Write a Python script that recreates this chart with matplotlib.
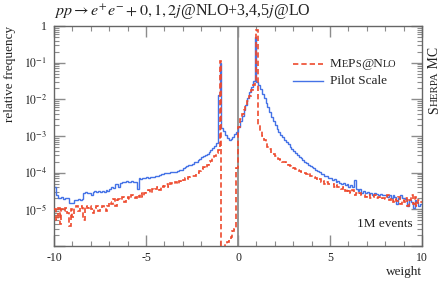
import numpy as np
import matplotlib
matplotlib.use("Agg")
import matplotlib.pyplot as plt
from matplotlib.transforms import offset_copy
from matplotlib.ticker import FixedLocator, LogLocator, NullFormatter

plt.rcParams['font.family'] = ['Liberation Serif', 'DejaVu Serif']
plt.rcParams['mathtext.fontset'] = 'stix'
plt.rcParams['axes.unicode_minus'] = False

# histogram: 200 bins of width 0.1 from -10 to 10, values as log10(relative frequency)
bin_edges = np.linspace(-10, 10, 201)

pilot_log = [
    -4.40, -4.62, -4.68, -4.70, -4.66, -4.72, -4.70, -4.68, -4.82, -4.84,
    -4.82, -4.74, -4.75, -4.72, -4.74, -4.72, -4.55, -4.54, -4.56, -4.55,
    -4.60, -4.52, -4.50, -4.53, -4.50, -4.52, -4.50, -4.52, -4.48, -4.50,
    -4.45, -4.40, -4.42, -4.30, -4.30, -4.40, -4.28, -4.25, -4.26, -4.24,
    -4.25, -4.26, -4.24, -4.25, -4.25, -4.45, -4.15, -4.16, -4.14, -4.15,
    -4.13, -4.14, -4.12, -4.13, -4.12, -4.10, -4.08, -4.06, -4.05, -4.03,
    -4.02, -4.00, -4.00, -3.99, -3.98, -3.97, -3.97, -3.96, -3.94, -3.92,
    -3.88, -3.85, -3.82, -3.80, -3.78, -3.75, -3.72, -3.70, -3.66, -3.62,
    -3.58, -3.55, -3.52, -3.48, -3.44, -3.38, -3.32, -3.26, -3.20, -1.88,
    -1.00, -2.78, -2.86, -2.96, -3.05, -3.10, -3.08, -3.02, -2.95, -2.88,
    -2.75, -2.60, -2.45, -2.30, -2.15, -1.95, -1.80, -1.65, -1.50, -0.29,
    -1.52, -1.62, -1.72, -1.85, -1.97, -2.10, -2.22, -2.35, -2.48, -2.60,
    -2.70, -2.80, -2.88, -2.96, -3.03, -3.10, -3.17, -3.23, -3.30, -3.36,
    -3.42, -3.47, -3.52, -3.56, -3.60, -3.65, -3.70, -3.74, -3.78, -3.82,
    -3.85, -3.88, -3.92, -3.95, -3.98, -4.05, -4.05, -4.10, -4.08, -4.15,
    -4.15, -4.20, -4.18, -4.25, -4.22, -4.27, -4.30, -4.28, -4.35, -4.30,
    -4.38, -4.35, -4.40, -4.20, -4.45, -4.50, -4.45, -4.55, -4.50, -4.55,
    -4.52, -4.58, -4.55, -4.60, -4.55, -4.58, -4.60, -4.57, -4.62, -4.60,
    -4.62, -4.65, -4.60, -4.70, -4.62, -4.65, -4.85, -4.70, -4.62, -4.68,
    -4.70, -4.72, -4.90, -4.75, -4.80, -4.95, -4.75, -4.80, -4.90, -4.85,
]

mepsnlo_log = [
    -5.00, -5.30, -4.95, -5.40, -5.00, -5.05, -4.95, -5.10, -5.45, -5.00,
    -5.20, -4.95, -4.90, -5.05, -4.92, -4.95, -5.30, -4.92, -4.95, -4.90,
    -5.00, -5.10, -4.95, -4.92, -5.05, -4.95, -4.90, -4.95, -5.05, -4.90,
    -4.80, -4.85, -4.72, -4.90, -4.75, -4.72, -4.75, -4.65, -4.80, -4.68,
    -4.65, -4.72, -4.62, -4.66, -4.70, -4.60, -4.65, -4.55, -4.66, -4.55,
    -4.52, -4.47, -4.55, -4.44, -4.48, -4.45, -4.40, -4.46, -4.36, -4.40,
    -4.36, -4.32, -4.38, -4.28, -4.32, -4.30, -4.25, -4.30, -4.22, -4.25,
    -4.20, -4.15, -4.18, -4.12, -4.10, -4.10, -4.08, -4.02, -4.00, -3.95,
    -3.90, -3.85, -3.87, -3.78, -3.72, -3.68, -3.60, -3.55, -3.45, -3.38,
    -0.95, -6.50, -6.30, -5.95, -5.90, -5.80, -5.75, -5.60, -5.55, -3.87,
    -2.75, -2.55, -2.40, -2.28, -2.20, -2.05, -1.90, -1.75, -1.62, -1.50,
    -0.11, -2.70, -2.85, -3.00, -3.10, -3.20, -3.30, -3.35, -3.45, -3.50,
    -3.55, -3.58, -3.62, -3.65, -3.70, -3.72, -3.75, -3.80, -3.82, -3.85,
    -3.88, -3.90, -3.93, -3.95, -3.97, -3.98, -4.00, -4.05, -4.02, -4.08,
    -4.10, -4.12, -4.15, -4.20, -4.18, -4.25, -4.22, -4.30, -4.25, -4.30,
    -4.32, -4.30, -4.38, -4.35, -4.40, -4.40, -4.45, -4.40, -4.50, -4.45,
    -4.50, -4.55, -4.48, -4.60, -4.55, -4.58, -4.55, -4.62, -4.60, -4.65,
    -4.62, -4.60, -4.68, -4.65, -4.60, -4.70, -4.65, -4.72, -4.68, -4.70,
    -4.72, -4.60, -4.75, -4.70, -4.80, -4.72, -4.78, -4.65, -4.85, -4.75,
    -4.80, -4.70, -4.90, -4.75, -4.60, -4.85, -4.65, -4.90, -4.75, -4.80,
]

pilot = 10 ** np.array(pilot_log)
mepsnlo = 10 ** np.array(mepsnlo_log)

red = '#ee4a2e'
blue = '#4472e6'
gray = '#8c8c8c'

fig = plt.figure(figsize=(4.41, 2.83), dpi=100)
ax = fig.add_axes([54 / 441, 37 / 283, 368 / 441, 220 / 283])

ax.axvline(0, color=gray, lw=1.3, zorder=1)
ax.stairs(mepsnlo, bin_edges, baseline=None, color=red, lw=1.2,
          linestyle=(0, (3.2, 1.8)), zorder=3)
ax.stairs(pilot, bin_edges, baseline=None, color=blue, lw=1.0, zorder=2)

ax.set_yscale('log')
ax.set_xlim(-10, 10)
ax.set_ylim(1e-6, 1)

ax.xaxis.set_major_locator(FixedLocator([-10, -5, 0, 5, 10]))
ax.xaxis.set_minor_locator(FixedLocator(np.arange(-10, 11, 1)))
ax.set_xticklabels(['-10', '-5', '0', '5', '10'])
ax.yaxis.set_major_locator(FixedLocator([1e-6, 1e-5, 1e-4, 1e-3, 1e-2, 1e-1, 1]))
ax.yaxis.set_minor_locator(LogLocator(base=10, subs=np.arange(2, 10), numticks=20))
ax.yaxis.set_minor_formatter(NullFormatter())
ax.set_yticklabels(['', '$10^{-5}$', '$10^{-4}$', '$10^{-3}$', '$10^{-2}$', '$10^{-1}$', '1'])

ax.tick_params(which='both', direction='in', top=True, right=True,
               color=gray, labelsize=8.5, labelcolor='#222222')
ax.tick_params(which='major', length=8, width=1.0)
ax.tick_params(which='minor', length=3.5, width=0.8)
ax.tick_params(axis='x', pad=4)
ax.tick_params(axis='y', pad=5)
for sp in ax.spines.values():
    sp.set_color('#666666')
    sp.set_linewidth(1.0)

ax.text(0.0, 1.045, r'$pp \rightarrow e^{+}e^{-} + 0,1,2j$@NLO+3,4,5$j$@LO',
        transform=ax.transAxes, ha='left', va='baseline', fontsize=11.5,
        color='#222222')
ax.text(-0.12, 1.0, 'relative frequency', transform=ax.transAxes,
        rotation=90, ha='center', va='top', fontsize=9.5, color='#222222')
ax.text(1.0, -0.118, 'weight', transform=ax.transAxes, ha='right', va='center',
        fontsize=9.5, color='#222222')
ax.text(0.975, 0.085, '1M events', transform=ax.transAxes, ha='right',
        va='baseline', fontsize=9.5, color='#222222')

renderer = fig.canvas.get_renderer()


def small_caps(x, y, s, size, rotation=0):
    # draw lower-case runs as smaller capitals, piece after piece
    runs = []
    for ch in s:
        low = ch.islower()
        if runs and runs[-1][1] == low:
            runs[-1][0] += ch
        else:
            runs.append([ch, low])
    off = 0.0
    for txt, low in runs:
        fs = size * 0.78 if low else size
        if rotation == 90:
            tr = offset_copy(ax.transAxes, fig, x=0, y=off, units='dots')
        else:
            tr = offset_copy(ax.transAxes, fig, x=off, y=0, units='dots')
        t = ax.text(x, y, txt.upper(), transform=tr, fontsize=fs,
                    rotation=rotation, ha='left', va='baseline',
                    rotation_mode='anchor', color='#222222', clip_on=False)
        bb = t.get_window_extent(renderer)
        off += bb.height if rotation == 90 else bb.width


# legend
ax.plot([0.65, 0.73], [0.827, 0.827], transform=ax.transAxes, color=red,
        lw=1.2, linestyle=(0, (3.2, 1.8)))
ax.plot([0.65, 0.73], [0.75, 0.75], transform=ax.transAxes, color=blue, lw=1.0)
small_caps(0.75, 0.812, 'MePs@Nlo', 9.5)
ax.text(0.75, 0.735, 'Pilot Scale', transform=ax.transAxes, ha='left',
        va='baseline', fontsize=9.5, color='#222222')
small_caps(1.043, 0.6, 'Sherpa MC', 10, rotation=90)

fig.savefig('out.png', dpi=100)
